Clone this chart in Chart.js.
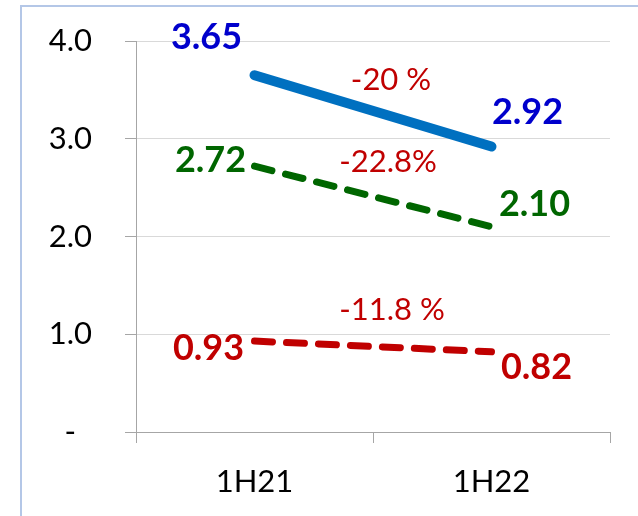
<!DOCTYPE html>
<html>
<head>
<meta charset="utf-8">
<script src="https://cdn.jsdelivr.net/npm/chart.js@4/dist/chart.umd.min.js"></script>
<style>
  body { margin: 0; background: #fff; }
  #wrap { position: relative; width: 638px; height: 516px; }
  #frame { position: absolute; left: 20px; top: 5px; right: 0; bottom: 0;
           border-left: 2px solid #b4c7e7; border-top: 2px solid #b4c7e7; }
  canvas { position: absolute; left: 0; top: 0; }
</style>
</head>
<body>
<div id="wrap">
  <div id="frame"></div>
  <canvas id="chart" width="638" height="516"></canvas>
</div>
<script>
// data
const categories = ['1H21', '1H22'];
const blueSeries = [3.65, 2.92];
const greenSeries = [2.72, 2.10];
const redSeries = [0.93, 0.82];
const changeLabels = ['-20 %', '-22.8%', '-11.8 %'];
const yTicks = [0, 1, 2, 3, 4];

const FONT = 'Lato, "Liberation Sans", sans-serif';

// label placement (offsets in px from the point / segment midpoint)
const labelStyle = [
  { color: '#0000cc', value: [[-48, -38], [36, -34]], change: [18, -31] },
  { color: '#006600', value: [[-44, -6], [43, -22]], change: [15, -34] },
  { color: '#c00000', value: [[-46, 7], [45, 16]], change: [19, -36] }
];

const labelPlugin = {
  id: 'labels',
  afterDatasetsDraw(chart) {
    const c = chart.ctx;
    const x = chart.scales.x, y = chart.scales.y;
    c.save();
    c.textAlign = 'center';
    c.textBaseline = 'middle';
    chart.data.datasets.forEach((ds, i) => {
      const st = labelStyle[i];
      const px = ds.data.map((v, j) => x.getPixelForValue(j));
      const py = ds.data.map(v => y.getPixelForValue(v));
      c.font = 'bold 36px ' + FONT;
      c.fillStyle = st.color;
      ds.data.forEach((v, j) => {
        c.fillText(v.toFixed(2), px[j] + st.value[j][0], py[j] + st.value[j][1]);
      });
      c.font = '31px ' + FONT;
      c.fillStyle = '#c00000';
      const mx = (px[0] + px[1]) / 2, my = (py[0] + py[1]) / 2;
      c.fillText(changeLabels[i], mx + st.change[0], my + st.change[1]);
    });
    c.restore();
  }
};

const ctx = document.getElementById('chart').getContext('2d');
const chart = new Chart(ctx, {
  type: 'line',
  data: {
    labels: categories,
    datasets: [{
      data: blueSeries,
      borderColor: '#0070c0',
      borderWidth: 10,
      borderCapStyle: 'round',
      pointRadius: 0
    }, {
      data: greenSeries,
      borderColor: '#006600',
      borderWidth: 7,
      borderCapStyle: 'round',
      borderDash: [18, 14],
      pointRadius: 0
    }, {
      data: redSeries,
      borderColor: '#c00000',
      borderWidth: 7,
      borderCapStyle: 'round',
      borderDash: [18, 14],
      pointRadius: 0
    }]
  },
  options: {
    responsive: false,
    animation: false,
    layout: { padding: { top: 41, right: 28, left: 0, bottom: 0 } },
    plugins: { legend: { display: false }, tooltip: { enabled: false } },
    scales: {
      x: {
        offset: true,
        grid: { offset: true, drawOnChartArea: false, tickLength: 11, color: '#a6a6a6' },
        border: { color: '#a6a6a6', width: 1 },
        ticks: { color: '#000', font: { family: FONT, size: 31 }, padding: 20, maxRotation: 0 },
        afterFit(s) { s.height = 84; s.paddingLeft = 0; s.paddingRight = 0; }
      },
      y: {
        min: 0,
        max: 4,
        afterBuildTicks(s) { s.ticks = yTicks.map(v => ({ value: v })); },
        grid: { color: '#d9d9d9', tickLength: 11, tickColor: '#a6a6a6' },
        border: { color: '#a6a6a6', width: 1 },
        ticks: {
          color: '#000',
          font: { family: FONT, size: 31 },
          padding: 33,
          callback: v => v === 0 ? '-  ' : v.toFixed(1)
        },
        afterFit(s) { s.width = 136; s.paddingTop = 0; s.paddingBottom = 0; }
      }
    }
  },
  plugins: [labelPlugin]
});
</script>
</body>
</html>
